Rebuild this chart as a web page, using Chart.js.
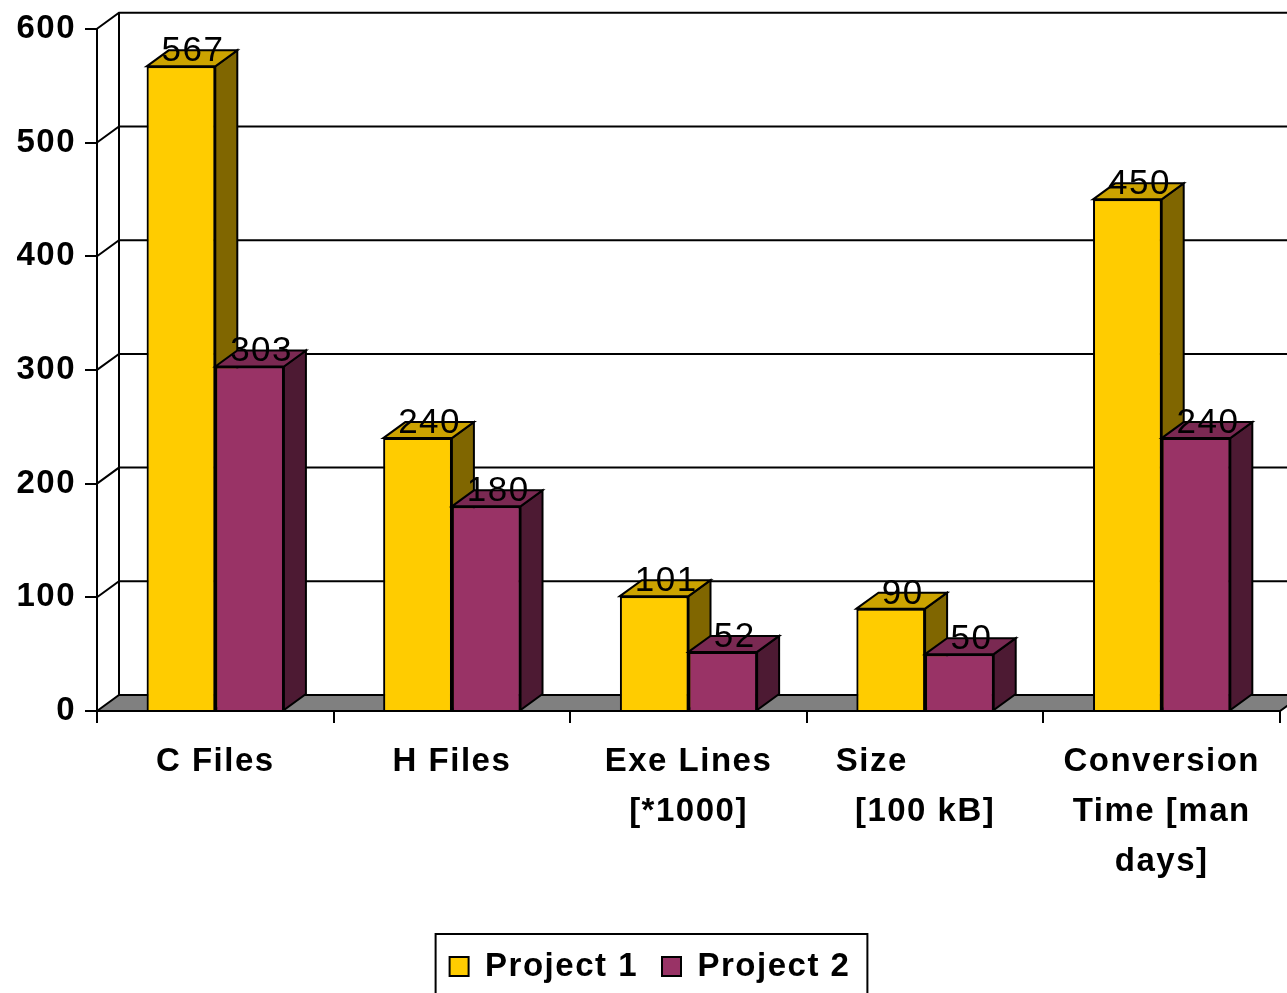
<body style="margin:0;background:#fff;">
  <div style="width:1287px;height:993px;"><canvas id="c"></canvas></div>

  <script src="https://cdn.jsdelivr.net/npm/chart.js"></script>

  <script>
    // categories, tick labels and series
    const categories = ["C Files", "H Files", "Exe Lines [*1000]", "Size [100 kB]", "Conversion Time [man days]"];
    const tickLabels = [["C Files"], ["H Files"], ["Exe Lines", "[*1000]"], ["Size          ", "[100 kB]"], ["Conversion", "Time [man", "days]"]];
    const project1 = [567, 240, 101, 90, 450];
    const project2 = [303, 180, 52, 50, 240];
    const seriesNames = ["Project 1", "Project 2"];
    const yTicks = [0, 100, 200, 300, 400, 500, 600];

    const frontColors = ["#FFCC00", "#993366"];
    const topColors = ["#CCA300", "#7A2952"];
    const sideColors = ["#806600", "#4D1A33"];
    const DX = 22, DY = 16; // fake depth of the 3d look
    const FONT = "'Liberation Sans', Arial, sans-serif";
    const SPACING = '1.5px';

    function poly(ctx, pts, fill) {
      ctx.beginPath();
      ctx.moveTo(pts[0][0], pts[0][1]);
      for (let i = 1; i < pts.length; i++) ctx.lineTo(pts[i][0], pts[i][1]);
      ctx.closePath();
      if (fill) { ctx.fillStyle = fill; ctx.fill(); }
      ctx.stroke();
    }

    const depth = {
      id: 'depth',
      beforeLayout(chart) { chart.ctx.letterSpacing = SPACING; },
      afterLayout(chart) { chart.legend.left += 20; }, // nudge legend a bit right like the original
      beforeDraw(chart) { chart.ctx.letterSpacing = SPACING; },
      beforeDatasetsDraw(chart) {
        const { ctx, chartArea: a, scales: { y } } = chart;
        ctx.save();
        ctx.lineWidth = 2;
        ctx.strokeStyle = '#000';
        // floor
        poly(ctx, [[a.left, a.bottom], [a.left + DX, a.bottom - DY], [a.right + DX, a.bottom - DY], [a.right, a.bottom]], '#808080');
        // side wall + back wall grid
        ctx.beginPath();
        for (const t of y.ticks) {
          if (t.value === 0) continue;
          const py = y.getPixelForValue(t.value);
          ctx.moveTo(a.left, py);
          ctx.lineTo(a.left + DX, py - DY);
          ctx.lineTo(chart.width + 5, py - DY);
        }
        ctx.moveTo(a.left + DX, a.top - DY);
        ctx.lineTo(a.left + DX, a.bottom - DY);
        ctx.stroke();
        ctx.restore();
      },
      afterDatasetsDraw(chart) {
        const { ctx } = chart;
        ctx.save();
        ctx.lineWidth = 2;
        ctx.strokeStyle = '#000';
        chart.data.datasets.forEach((ds, i) => {
          chart.getDatasetMeta(i).data.forEach(bar => {
            const { x, y, base, width } = bar.getProps(['x', 'y', 'base', 'width'], true);
            const l = x - width / 2, r = x + width / 2;
            bar.draw(ctx); // front face again so the layers stack right
            poly(ctx, [[r, y], [r + DX, y - DY], [r + DX, base - DY], [r, base]], sideColors[i]);
            poly(ctx, [[l, y], [l + DX, y - DY], [r + DX, y - DY], [r, y]], topColors[i]);
          });
        });
        // value labels
        ctx.letterSpacing = SPACING;
        ctx.fillStyle = '#000';
        ctx.font = `35px ${FONT}`;
        ctx.textAlign = 'center';
        ctx.textBaseline = 'alphabetic';
        chart.data.datasets.forEach((ds, i) => {
          chart.getDatasetMeta(i).data.forEach((bar, j) => {
            const { x, y } = bar.getProps(['x', 'y'], true);
            ctx.fillText(String(ds.data[j]), x + DX / 2 + 1, y - 5);
          });
        });
        ctx.restore();
      },
      afterDraw(chart) {
        const hb = chart.legend.legendHitBoxes;
        if (!hb || !hb.length) return;
        const { ctx } = chart;
        const last = hb[hb.length - 1];
        ctx.save();
        ctx.lineWidth = 2;
        ctx.strokeStyle = '#000';
        ctx.strokeRect(hb[0].left - 14, hb[0].top - 16, last.left + last.width + 31 - hb[0].left, 100);
        ctx.restore();
      }
    };

    new Chart(document.getElementById('c'), {
      type: 'bar',
      data: {
        labels: tickLabels,
        datasets: [
          { label: seriesNames[0], data: project1, backgroundColor: frontColors[0], borderColor: '#000', borderWidth: 2 },
          { label: seriesNames[1], data: project2, backgroundColor: frontColors[1], borderColor: '#000', borderWidth: 2 },
        ],
      },
      options: {
        responsive: true,
        maintainAspectRatio: false,
        animation: false,
        layout: { padding: { top: 26, right: 7, left: 0, bottom: 0 } },
        datasets: { bar: { categoryPercentage: 0.58, barPercentage: 1.0 } },
        plugins: {
          legend: {
            position: 'bottom',
            labels: {
              boxWidth: 19,
              boxHeight: 19,
              padding: 24,
              color: '#000',
              font: { family: FONT, size: 33, weight: 'bold' },
            },
          },
          tooltip: { enabled: false },
        },
        scales: {
          x: {
            afterFit: s => { s.height = 215; },
            grid: { drawOnChartArea: false, drawTicks: true, tickLength: 12, color: '#000', lineWidth: 2 },
            border: { color: '#000', width: 2 },
            ticks: {
              color: '#000',
              padding: 14,
              maxRotation: 0,
              autoSkip: false,
              font: { family: FONT, size: 33, weight: 'bold', lineHeight: 50 / 33 },
            },
          },
          y: {
            min: 0,
            max: 600,
            afterFit: s => { s.width = 97; },
            afterBuildTicks: s => { s.ticks = yTicks.map(v => ({ value: v })); },
            grid: { drawOnChartArea: false, drawTicks: true, tickLength: 12, color: '#000', lineWidth: 2 },
            border: { color: '#000', width: 2 },
            ticks: {
              color: '#000',
              padding: 9,
              font: { family: FONT, size: 33, weight: 'bold' },
            },
          },
        },
      },
      plugins: [depth],
    });
  </script>
</body>
